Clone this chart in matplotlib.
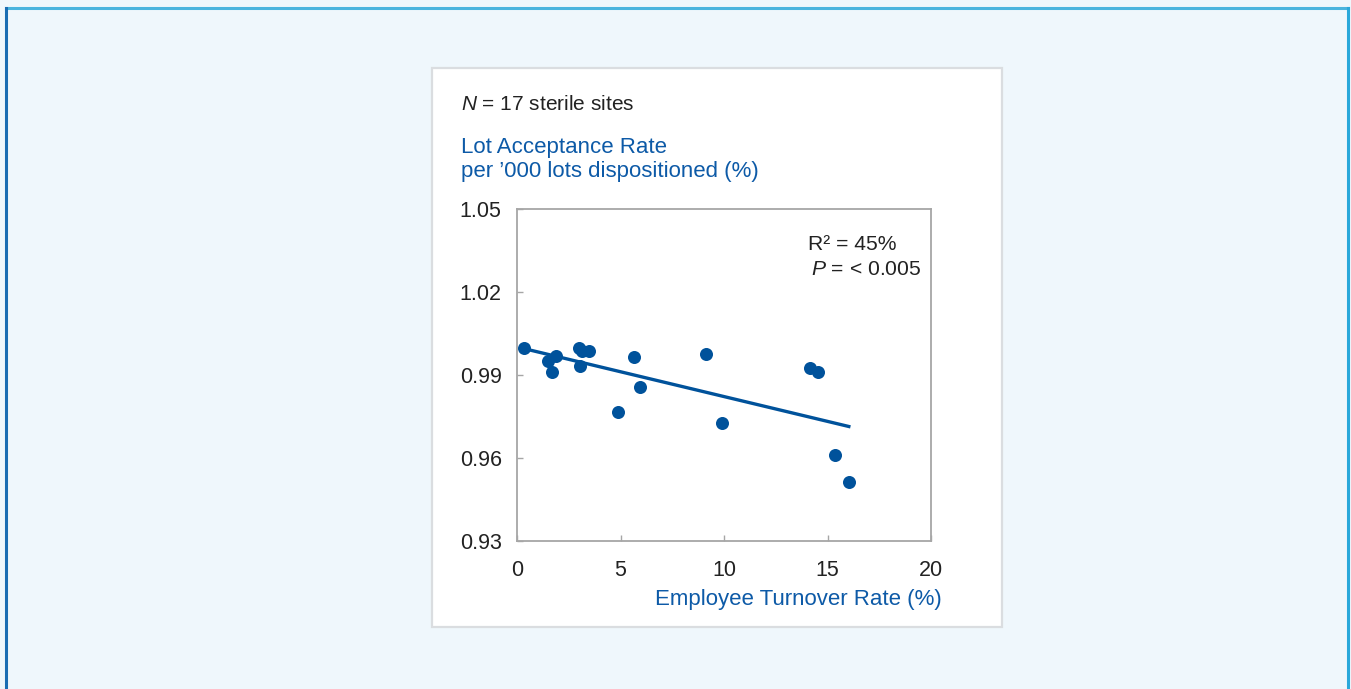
import numpy as np
import matplotlib.pyplot as plt
from matplotlib.patches import Rectangle
from matplotlib.lines import Line2D

# turnover (%) vs lot acceptance rate, one point per sterile site
turnover = [0.34, 1.50, 1.89, 1.69, 3.00, 3.15, 3.49, 3.05, 5.67, 5.96,
            4.89, 9.15, 9.88, 14.14, 14.53, 15.35, 16.03]
acceptance = [0.9998, 0.9951, 0.9969, 0.9911, 0.9998, 0.9987, 0.9987, 0.9933,
              0.9965, 0.9857, 0.9766, 0.9976, 0.9727, 0.9925, 0.9911, 0.9611,
              0.9513]
x_ticks = [0, 5, 10, 15, 20]
y_ticks = [0.93, 0.96, 0.99, 1.02, 1.05]

plt.rcParams['font.family'] = ['Liberation Sans', 'DejaVu Sans']
plt.rcParams['mathtext.fontset'] = 'custom'
plt.rcParams['mathtext.rm'] = 'Liberation Sans'
plt.rcParams['mathtext.it'] = 'Liberation Sans:italic'

W, H = 1351, 689
BLUE = '#0D5AA7'
DOT = '#00529B'
GREY = '#A6A6A6'


def fx(px):
    return px / W


def fy(py):
    return 1 - py / H


fig = plt.figure(figsize=(W / 100, H / 100), dpi=100)
fig.patch.set_facecolor('#EFF7FC')

# frame lines round the page
fig.add_artist(Line2D([fx(6), fx(1348)], [fy(8), fy(8)], color='#4AB4DE', lw=2.2))
fig.add_artist(Line2D([fx(6), fx(6)], [fy(8), 0], color='#1A6DB3', lw=2.2))
fig.add_artist(Line2D([fx(1348), fx(1348)], [fy(8), 0], color='#2AA8DA', lw=2.2))

# white card behind the chart
card = Rectangle((fx(432), fy(627)), fx(570), 559 / H,
                 facecolor='white', edgecolor='#DADDE0', lw=1.6, zorder=-1)
fig.add_artist(card)

ax = fig.add_axes([fx(517), fy(541), fx(931 - 517), (541 - 209) / H])
ax.set_facecolor('white')
ax.scatter(turnover, acceptance, s=88, color=DOT, zorder=3, linewidths=0)

slope, icpt = np.polyfit(turnover, acceptance, 1)
xs = np.array([min(turnover), max(turnover)])
ax.plot(xs, slope * xs + icpt, color=DOT, lw=2.4, zorder=2)

ax.set_xlim(0, 20)
ax.set_ylim(0.93, 1.05)
ax.set_xticks(x_ticks)
ax.set_yticks(y_ticks)
ax.set_xticklabels([str(t) for t in x_ticks])
ax.set_yticklabels(['%.2f' % t for t in y_ticks])
for s in ax.spines.values():
    s.set_color(GREY)
    s.set_linewidth(1.3)
ax.tick_params(direction='in', length=4, width=1, color=GREY,
               labelsize=15.5, labelcolor='#222222')
ax.tick_params(axis='x', pad=14)
ax.tick_params(axis='y', pad=11)

fig.text(fx(461), fy(104), r'$\mathit{N}$ = 17 sterile sites', fontsize=15,
         color='#222222', va='center', ha='left')
fig.text(fx(461), fy(147), 'Lot Acceptance Rate', fontsize=16,
         color=BLUE, va='center', ha='left')
fig.text(fx(461), fy(171), 'per \u2019000 lots dispositioned (%)', fontsize=16,
         color=BLUE, va='center', ha='left')
fig.text(fx(942), fy(599), 'Employee Turnover Rate (%)', fontsize=16,
         color=BLUE, va='center', ha='right')
fig.text(fx(808), fy(245), 'R\u00b2 = 45%', fontsize=15.2,
         color='#222222', va='center', ha='left')
fig.text(fx(811), fy(269), r'$\mathit{P}$ = < 0.005', fontsize=15.2,
         color='#222222', va='center', ha='left')

fig.savefig('out.png', dpi=100, facecolor=fig.get_facecolor())
